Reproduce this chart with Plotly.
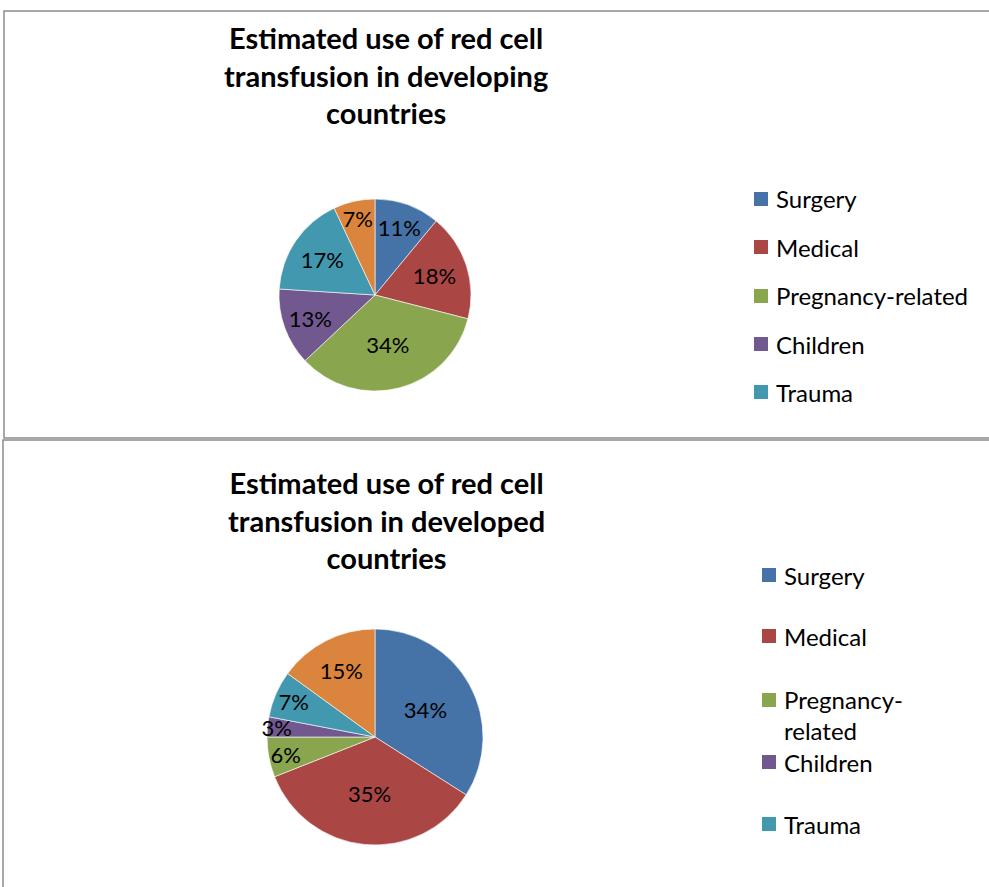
import plotly.graph_objects as go

W, H = 989, 887

categories = ["Surgery", "Medical", "Pregnancy-related", "Children", "Trauma", "Other"]
developing_values = [11, 18, 34, 13, 17, 7]
developed_values = [34, 35, 6, 3, 7, 15]
legend_labels = ["Surgery", "Medical", "Pregnancy-related", "Children", "Trauma"]
developed_legend_labels = ["Surgery", "Medical", "Pregnancy-<br>related", "Children", "Trauma"]
colors = ["#4572A7", "#AA4643", "#89A54E", "#71588F", "#4198AF", "#DB843D"]

title_top = "Estimated use of red cell<br>transfusion in developing<br>countries"
title_bottom = "Estimated use of red cell<br>transfusion in developed<br>countries"

FONT = "Lato, Calibri, Carlito, sans-serif"


def px(x):
    return x / W


def py(y):
    return 1 - y / H


fig = go.Figure()


def add_pie(values, cx, cy, r):
    fig.add_trace(go.Pie(
        labels=categories,
        values=values,
        sort=False,
        direction="clockwise",
        rotation=0,
        marker=dict(colors=colors, line=dict(color="rgba(255,255,255,0.6)", width=1)),
        texttemplate="%{percent:.0%}",
        textposition="inside",
        insidetextorientation="horizontal",
        textfont=dict(family=FONT, size=22, color="black"),
        showlegend=False,
        hoverinfo="label+percent",
        domain=dict(x=[px(cx - r), px(cx + r)], y=[py(cy + r), py(cy - r)]),
    ))


add_pie(developing_values, 375, 295, 96)
add_pie(developed_values, 375, 737, 108)

shapes = [
    dict(type="rect", xref="paper", yref="paper", x0=px(4), x1=px(1000), y0=py(11), y1=py(438),
         line=dict(color="#8c8c8c", width=1.5), fillcolor="rgba(0,0,0,0)"),
    dict(type="rect", xref="paper", yref="paper", x0=px(3), x1=px(1000), y0=py(440), y1=py(900),
         line=dict(color="#8c8c8c", width=1.5), fillcolor="rgba(0,0,0,0)"),
]
annotations = [
    dict(text="<b>%s</b>" % title_top, x=px(386), y=py(75), xref="paper", yref="paper",
         xanchor="center", yanchor="middle", showarrow=False,
         font=dict(family=FONT, size=29, color="black")),
    dict(text="<b>%s</b>" % title_bottom, x=px(386), y=py(520), xref="paper", yref="paper",
         xanchor="center", yanchor="middle", showarrow=False,
         font=dict(family=FONT, size=29, color="black")),
]

# Top legend
top_rows = [199, 247, 296, 344, 392]
for lab, col, yy in zip(legend_labels, colors, top_rows):
    shapes.append(dict(type="rect", xref="paper", yref="paper", x0=px(754), x1=px(768),
                       y0=py(yy + 7), y1=py(yy - 7), fillcolor=col, line=dict(width=0)))
    annotations.append(dict(text=lab, x=px(774), y=py(yy), xref="paper", yref="paper",
                            xanchor="left", yanchor="middle", showarrow=False,
                            font=dict(family=FONT, size=24, color="black")))

# Bottom legend
bot_rows = [575, 636, 700, 762, 824]
bot_text_y = [575, 636, 715, 762, 824]
for lab, col, yy, ty in zip(developed_legend_labels, colors, bot_rows, bot_text_y):
    shapes.append(dict(type="rect", xref="paper", yref="paper", x0=px(762), x1=px(776),
                       y0=py(yy + 7), y1=py(yy - 7), fillcolor=col, line=dict(width=0)))
    annotations.append(dict(text=lab, x=px(782), y=py(ty), xref="paper", yref="paper",
                            xanchor="left", yanchor="middle", showarrow=False, align="left",
                            font=dict(family=FONT, size=24, color="black")))

fig.update_layout(
    width=W, height=H,
    margin=dict(l=0, r=0, t=0, b=0),
    paper_bgcolor="white",
    plot_bgcolor="white",
    shapes=shapes,
    annotations=annotations,
    font=dict(family=FONT),
    uniformtext=dict(minsize=22, mode="show"),
)

fig.write_html("out.html")
